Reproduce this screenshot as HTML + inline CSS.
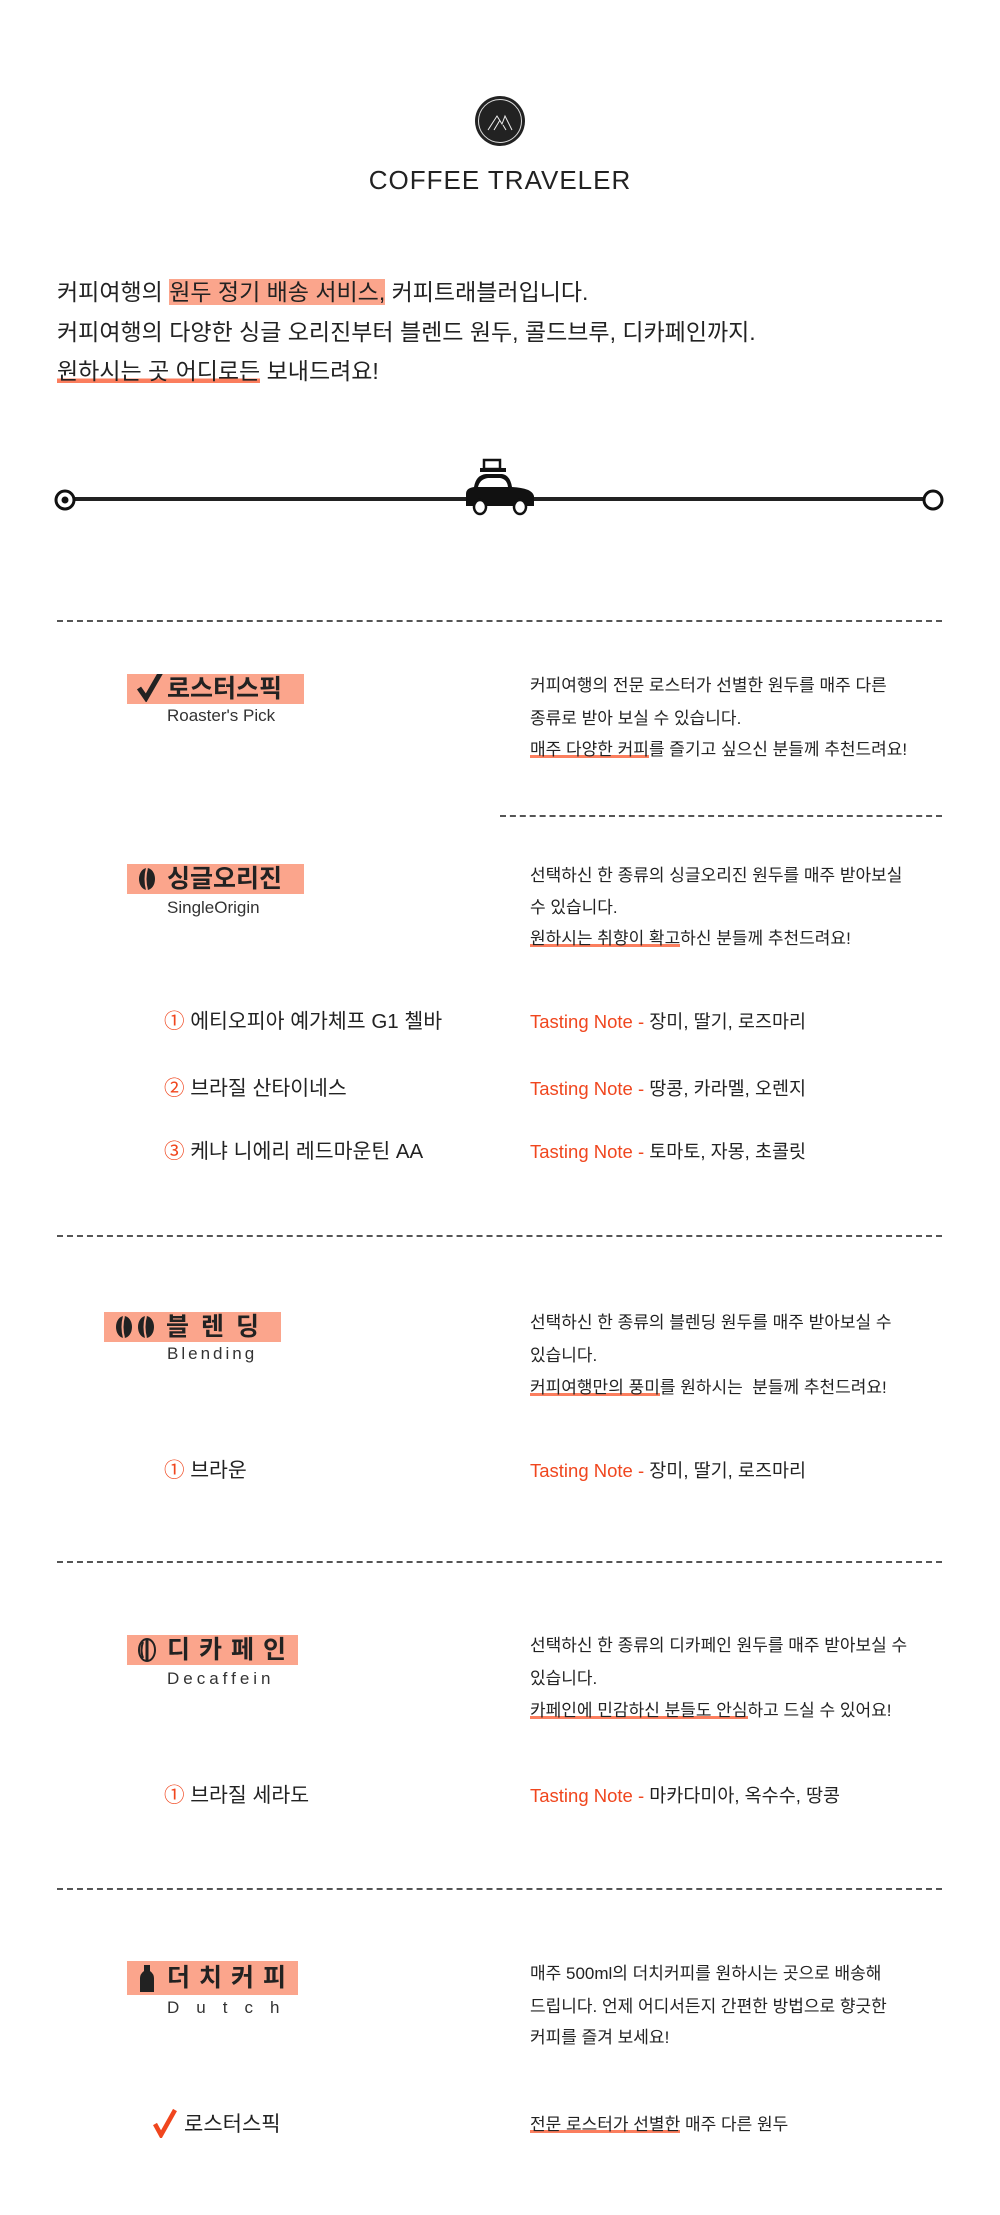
<!DOCTYPE html>
<html><head><meta charset="utf-8"><style>
body{margin:0;background:#fff;}
#p{position:relative;width:1000px;height:2215px;overflow:hidden;font-family:"Liberation Sans","Noto Sans CJK KR",sans-serif;color:#222;}
.t{position:absolute;white-space:nowrap;}
.dash{position:absolute;height:0;border-top:2px dashed #555;}
.box{position:absolute;background:#fba58c;font-weight:bold;font-size:25px;line-height:30px;color:#222;white-space:nowrap;overflow:hidden;}
.box svg{position:absolute;}
.box span.k{position:absolute;top:0;}
.sub{position:absolute;font-size:17px;line-height:20px;color:#333;white-space:nowrap;}
.r{position:absolute;left:530px;font-size:17px;line-height:20px;white-space:nowrap;color:#222;}
.u{background:linear-gradient(transparent 78%,#fb7e5e 78%,#fb7e5e 96%,transparent 96%);}
.it{position:absolute;font-size:20.5px;line-height:24px;white-space:nowrap;}
.o{color:#f0461e;}
.tn{position:absolute;left:530px;font-size:18.5px;line-height:24px;white-space:nowrap;}
</style></head><body><div id="p">
<svg class="t" style="left:474px;top:94px" width="52" height="54"><circle cx="26" cy="27" r="25" fill="#222"/><circle cx="26" cy="27" r="21.5" fill="none" stroke="#ddd" stroke-width="1"/><path d="M14 36 L23 22 L28 30 L31 22 L38 36 M20 36 L26 26 M32 36 L29 31" stroke="#eee" fill="none" stroke-width="1"/></svg>
<div class="t" style="left:0;width:1000px;text-align:center;top:164px;font-size:26px;line-height:32px;letter-spacing:1px;color:#222">COFFEE TRAVELER</div>
<div class="t" style="left:57px;top:277px;font-size:23px;line-height:30px">커피여행의 <span style="background:#fba58c">원두 정기 배송 서비스,</span> 커피트래블러입니다.</div>
<div class="t" style="left:57px;top:317px;font-size:23px;line-height:30px">커피여행의 다양한 싱글 오리진부터 블렌드 원두, 콜드브루, 디카페인까지.</div>
<div class="t" style="left:57px;top:356px;font-size:23px;line-height:30px"><span class="u">원하시는 곳 어디로든</span> 보내드려요!</div>
<div class="t" style="left:65px;top:497px;width:867px;height:4px;background:#222"></div>
<svg class="t" style="left:54px;top:488px" width="22" height="24"><circle cx="11" cy="12" r="9" fill="#fff" stroke="#111" stroke-width="3"/><circle cx="11" cy="12" r="3.5" fill="#111"/></svg>
<svg class="t" style="left:922px;top:488px" width="22" height="24"><circle cx="11" cy="12" r="9" fill="#fff" stroke="#111" stroke-width="3"/></svg>
<svg class="t" style="left:462px;top:458px" width="76" height="58"><rect x="22" y="2" width="16" height="9" fill="none" stroke="#111" stroke-width="2.5"/><rect x="18" y="10" width="26" height="4" fill="#111"/><path d="M4 44 L4 36 Q4 30 12 29 Q14 17 24 16 L40 16 Q48 17 50 29 Q70 30 72 38 L72 48 L4 48 Z" fill="#111"/><path d="M16 29 Q18 21 26 20 L38 20 Q45 21 46 29 Z" fill="#fff"/><ellipse cx="18" cy="49" rx="6" ry="7" fill="#fff" stroke="#111" stroke-width="2.5"/><ellipse cx="58" cy="49" rx="6" ry="7" fill="#fff" stroke="#111" stroke-width="2.5"/></svg>

<div class="dash" style="left:57px;top:620px;width:885px"></div>

<div class="box" style="left:127px;top:674px;width:177px;height:30px"><svg style="left:8px;top:-4px" width="30" height="32"><path d="M4 18 L11 28 L26 2" stroke="#222" stroke-width="5" fill="none"/></svg><span class="k" style="left:40px">로스터스픽</span></div>
<div class="sub" style="left:167px;top:706px">Roaster's Pick</div>
<div class="r" style="top:676px">커피여행의 전문 로스터가 선별한 원두를 매주 다른</div>
<div class="r" style="top:709px">종류로 받아 보실 수 있습니다.</div>
<div class="r" style="top:740px"><span class="u">매주 다양한 커피</span>를 즐기고 싶으신 분들께 추천드려요!</div>

<div class="dash" style="left:500px;top:815px;width:442px"></div>

<div class="box" style="left:127px;top:864px;width:177px;height:30px"><svg style="left:8px;top:3px" width="24" height="24"><ellipse cx="12" cy="12" rx="8" ry="11" fill="#222"/><path d="M12 1 Q9 12 12 23" stroke="#fba58c" stroke-width="2" fill="none"/></svg><span class="k" style="left:40px">싱글오리진</span></div>
<div class="sub" style="left:167px;top:898px">SingleOrigin</div>
<div class="r" style="top:866px">선택하신 한 종류의 싱글오리진 원두를 매주 받아보실</div>
<div class="r" style="top:898px">수 있습니다.</div>
<div class="r" style="top:929px"><span class="u">원하시는 취향이 확고</span>하신 분들께 추천드려요!</div>

<div class="it" style="left:164px;top:1010px"><span class="o">①</span> 에티오피아 예가체프 G1 첼바</div>
<div class="tn" style="top:1010px"><span class="o">Tasting Note -</span> 장미, 딸기, 로즈마리</div>
<div class="it" style="left:164px;top:1077px"><span class="o">②</span> 브라질 산타이네스</div>
<div class="tn" style="top:1077px"><span class="o">Tasting Note -</span> 땅콩, 카라멜, 오렌지</div>
<div class="it" style="left:164px;top:1140px"><span class="o">③</span> 케냐 니에리 레드마운틴 AA</div>
<div class="tn" style="top:1140px"><span class="o">Tasting Note -</span> 토마토, 자몽, 초콜릿</div>

<div class="dash" style="left:57px;top:1235px;width:885px"></div>

<div class="box" style="left:104px;top:1312px;width:177px;height:30px"><svg style="left:8px;top:3px" width="50" height="24"><ellipse cx="12" cy="12" rx="8" ry="11" fill="#222"/><path d="M12 1 Q9 12 12 23" stroke="#fba58c" stroke-width="2" fill="none"/><ellipse cx="34" cy="12" rx="8" ry="11" fill="#222"/><path d="M34 1 Q31 12 34 23" stroke="#fba58c" stroke-width="2" fill="none"/></svg><span class="k" style="left:62px;letter-spacing:12px">블렌딩</span></div>
<div class="sub" style="left:167px;top:1344px;letter-spacing:3px">Blending</div>
<div class="r" style="top:1313px">선택하신 한 종류의 블렌딩 원두를 매주 받아보실 수</div>
<div class="r" style="top:1346px">있습니다.</div>
<div class="r" style="top:1378px"><span class="u">커피여행만의 풍미</span>를 원하시는 &nbsp;분들께 추천드려요!</div>

<div class="it" style="left:164px;top:1459px"><span class="o">①</span> 브라운</div>
<div class="tn" style="top:1459px"><span class="o">Tasting Note -</span> 장미, 딸기, 로즈마리</div>

<div class="dash" style="left:57px;top:1561px;width:885px"></div>

<div class="box" style="left:127px;top:1635px;width:171px;height:30px"><svg style="left:8px;top:3px" width="24" height="24"><ellipse cx="12" cy="12" rx="8" ry="11" fill="none" stroke="#222" stroke-width="2"/><path d="M12 1 L12 23" stroke="#222" stroke-width="3"/><path d="M8 4 Q5 12 8 20" stroke="#222" stroke-width="2" fill="none"/></svg><span class="k" style="left:40px;letter-spacing:9px">디카페인</span></div>
<div class="sub" style="left:167px;top:1669px;letter-spacing:4px">Decaffein</div>
<div class="r" style="top:1636px">선택하신 한 종류의 디카페인 원두를 매주 받아보실 수</div>
<div class="r" style="top:1669px">있습니다.</div>
<div class="r" style="top:1701px"><span class="u">카페인에 민감하신 분들도 안심</span>하고 드실 수 있어요!</div>

<div class="it" style="left:164px;top:1784px"><span class="o">①</span> 브라질 세라도</div>
<div class="tn" style="top:1784px"><span class="o">Tasting Note -</span> 마카다미아, 옥수수, 땅콩</div>

<div class="dash" style="left:57px;top:1888px;width:885px"></div>

<div class="box" style="left:127px;top:1961px;width:171px;height:34px;line-height:34px"><svg style="left:10px;top:3px" width="20" height="30"><path d="M7 1 L13 1 L13 7 Q17 10 17 14 L17 28 L3 28 L3 14 Q3 10 7 7 Z" fill="#222"/></svg><span class="k" style="left:40px;letter-spacing:9px">더치커피</span></div>
<div class="sub" style="left:167px;top:1998px;letter-spacing:17px">Dutch</div>
<div class="r" style="top:1964px">매주 500ml의 더치커피를 원하시는 곳으로 배송해</div>
<div class="r" style="top:1997px">드립니다. 언제 어디서든지 간편한 방법으로 향긋한</div>
<div class="r" style="top:2028px">커피를 즐겨 보세요!</div>

<svg class="t" style="left:152px;top:2108px" width="26" height="30"><path d="M3 16 L9 27 L23 2" stroke="#f0461e" stroke-width="4.5" fill="none"/></svg>
<div class="it" style="left:184px;top:2113px;font-size:21px">로스터스픽</div>
<div class="r" style="top:2115px"><span class="u">전문 로스터가 선별한</span> 매주 다른 원두</div>
</div></body></html>
